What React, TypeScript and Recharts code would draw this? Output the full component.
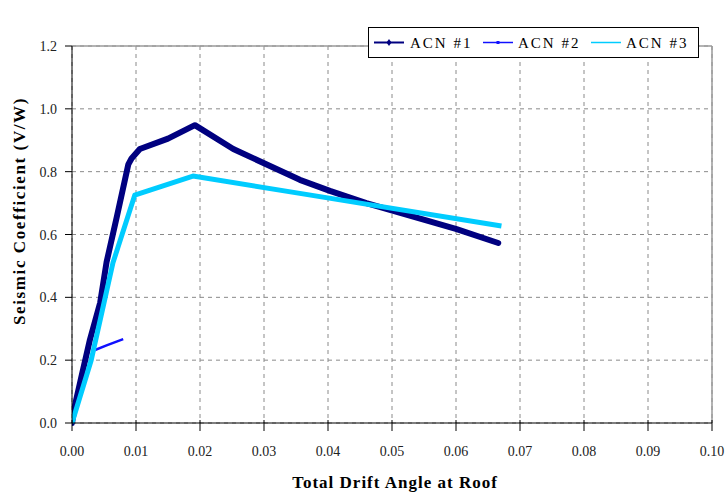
import React from "react";
import {
  ComposedChart,
  Line,
  XAxis,
  YAxis,
  CartesianGrid,
  ReferenceLine,
  Legend,
} from "recharts";

// Roof drift angle vs. seismic coefficient for three analysis cases
const acn1Drift = [0, 0.0005, 0.0015, 0.0028, 0.0044, 0.0054, 0.007, 0.0088, 0.0093, 0.0106, 0.015, 0.0192, 0.0252, 0.0356, 0.0403, 0.046, 0.0601, 0.0666];
const acn1Coef = [0, 0.06, 0.15, 0.265, 0.383, 0.512, 0.656, 0.823, 0.842, 0.872, 0.905, 0.948, 0.872, 0.774, 0.739, 0.7, 0.617, 0.573];

const acn2Drift = [0, 0.0033, 0.0054, 0.008];
const acn2Coef = [0, 0.23, 0.247, 0.267];

const acn3Drift = [0, 0.003, 0.0064, 0.0098, 0.0189, 0.0356, 0.0671];
const acn3Coef = [0, 0.2, 0.51, 0.725, 0.786, 0.731, 0.627];

const xTicks = [0, 0.01, 0.02, 0.03, 0.04, 0.05, 0.06, 0.07, 0.08, 0.09, 0.1];
const yTicks = [0, 0.2, 0.4, 0.6, 0.8, 1.0, 1.2];

const seriesNames = ["ACN #1", "ACN #2", "ACN #3"];
const seriesColors = ["#000080", "#1010ff", "#00ccff"];

const toPoints = (xs: number[], ys: number[]) => xs.map((x, i) => ({ x, y: ys[i] }));

const acn1 = toPoints(acn1Drift, acn1Coef);
const acn2 = toPoints(acn2Drift, acn2Coef);
const acn3 = toPoints(acn3Drift, acn3Coef);

const FONT = "'Liberation Serif', 'Times New Roman', serif";

const XTick = (props: any) => {
  const { x, y, payload } = props;
  // y arrives as axis line + tickSize; draw a crossing tick mark
  return (
    <g>
      <line x1={x} x2={x} y1={y - 11} y2={y} stroke="#000" strokeWidth={1} />
      <text x={x} y={y + 25} textAnchor="middle" fontSize={14} fontFamily={FONT} fill="#222">
        {Number(payload.value).toFixed(2)}
      </text>
    </g>
  );
};

const YTick = (props: any) => {
  const { x, y, payload } = props;
  return (
    <text x={x} y={y + 5} textAnchor="end" fontSize={14} fontFamily={FONT} fill="#222">
      {Number(payload.value).toFixed(1)}
    </text>
  );
};

const LegendBox = () => {
  const items = [
    { x: 6, text: 42 },
    { x: 115, text: 150 },
    { x: 223, text: 258 },
  ];
  return (
    <svg width={331} height={31} style={{ display: "block" }}>
      <rect x={0.5} y={0.5} width={330} height={30} fill="#fff" stroke="#000" strokeWidth={1} />
      {items.map((it, i) => (
        <g key={seriesNames[i]}>
          <line x1={it.x} x2={it.x + 30} y1={15.5} y2={15.5} stroke={seriesColors[i]} strokeWidth={i === 0 ? 2 : 1.5} />
          {i === 0 && <path d={`M${it.x + 15} ${12} L${it.x + 17.5} ${15.5} L${it.x + 15} ${19} L${it.x + 12.5} ${15.5} Z`} fill={seriesColors[i]} />}
          {i === 1 && <rect x={it.x + 13.5} y={14} width={3} height={3} fill={seriesColors[i]} />}
          <text x={it.text} y={21} fontSize={15} fontFamily={FONT} fill="#000" letterSpacing={2}>
            {seriesNames[i]}
          </text>
        </g>
      ))}
    </svg>
  );
};

export default function App() {
  return (
    <div style={{ position: "absolute", left: 0, top: 0, width: 725, height: 495, background: "#fff" }}>
      <ComposedChart width={725} height={495} margin={{ top: 15, right: 13, bottom: 32, left: 22 }}>
        <CartesianGrid stroke="#8a8a8a" strokeDasharray="4 4" />
        <XAxis
          dataKey="x"
          type="number"
          domain={[0, 0.1]}
          ticks={xTicks}
          allowDataOverflow
          stroke="#000"
          tickLine={false}
          tickSize={8}
          tickMargin={0}
          height={40}
          tick={<XTick />}
        />
        <YAxis
          dataKey="y"
          type="number"
          domain={[0, 1.2]}
          ticks={yTicks}
          stroke="#000"
          tickLine={{ stroke: "#000" }}
          tickSize={7}
          tickMargin={8}
          width={50}
          tick={<YTick />}
        />
        <ReferenceLine y={1.2} stroke="#9a9a9a" strokeWidth={1.5} />
        <ReferenceLine x={0.1} stroke="#9a9a9a" strokeWidth={1.5} />
        <Legend
          verticalAlign="top"
          align="left"
          wrapperStyle={{ position: "absolute", left: 368, top: 27, width: 331 }}
          content={() => <LegendBox />}
        />
        <Line
          data={acn1}
          dataKey="y"
          name={seriesNames[0]}
          type="linear"
          stroke={seriesColors[0]}
          strokeWidth={6}
          strokeLinejoin="round"
          strokeLinecap="round"
          dot={false}
          isAnimationActive={false}
        />
        <Line
          data={acn2}
          dataKey="y"
          name={seriesNames[1]}
          type="linear"
          stroke={seriesColors[1]}
          strokeWidth={2.5}
          dot={false}
          isAnimationActive={false}
        />
        <Line
          data={acn3}
          dataKey="y"
          name={seriesNames[2]}
          type="linear"
          stroke={seriesColors[2]}
          strokeWidth={5}
          strokeLinejoin="round"
          dot={false}
          isAnimationActive={false}
        />
      </ComposedChart>
      <div
        style={{
          position: "absolute",
          left: 20,
          top: 211,
          transform: "translate(-50%, -50%) rotate(-90deg)",
          whiteSpace: "nowrap",
          fontFamily: FONT,
          fontWeight: "bold",
          fontSize: 17,
          letterSpacing: 1.6,
          color: "#000",
        }}
      >
        Seismic Coefficient (V/W)
      </div>
      <div
        style={{
          position: "absolute",
          left: 395,
          top: 483,
          transform: "translate(-50%, -50%)",
          whiteSpace: "nowrap",
          fontFamily: FONT,
          fontWeight: "bold",
          fontSize: 17,
          letterSpacing: 1,
          color: "#000",
        }}
      >
        Total Drift Angle at Roof
      </div>
    </div>
  );
}
